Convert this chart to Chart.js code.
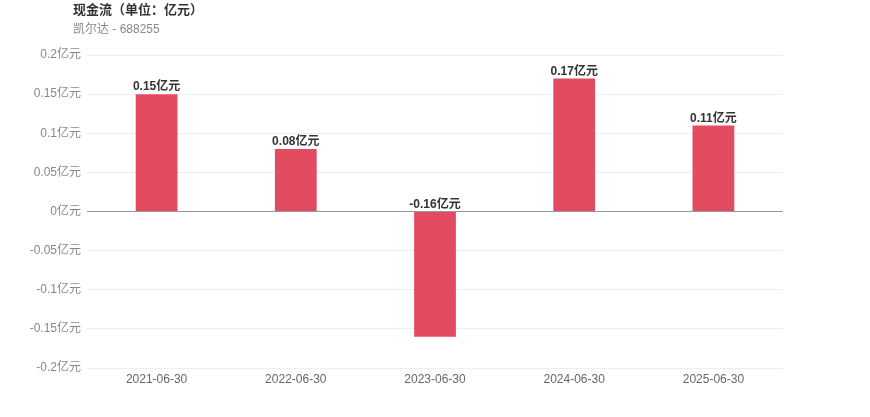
<!DOCTYPE html>
<html>
<head>
<meta charset="utf-8">
<script src="https://cdn.jsdelivr.net/npm/chart.js@4/dist/chart.umd.min.js"></script>
<style>
  body { margin: 0; background: #fff; font-family: "Liberation Sans", "Noto Sans CJK SC", sans-serif; }
  #wrap { position: relative; width: 870px; height: 417px; }
  #title { position: absolute; left: 73px; top: -1px; font-size: 13px; font-weight: bold; color: #333; }
  #sub { position: absolute; left: 73px; top: 19px; font-size: 12px; color: #888; }
</style>
</head>
<body>
<div id="wrap">
  <canvas id="myChart" width="870" height="417"></canvas>
  <div id="title">现金流（单位：亿元）</div>
  <div id="sub">凯尔达 - 688255</div>
</div>
<script>
const dates = ["2021-06-30", "2022-06-30", "2023-06-30", "2024-06-30", "2025-06-30"];
const cashFlow = [0.15, 0.08, -0.16, 0.17, 0.11];
const unit = "亿元";

const fontFamily = '"Liberation Sans", "Noto Sans CJK SC", sans-serif';

const barLabels = {
  id: "barLabels",
  afterDatasetsDraw(chart) {
    const ctx = chart.ctx;
    const meta = chart.getDatasetMeta(0);
    const yZero = chart.scales.y.getPixelForValue(0);
    ctx.save();
    ctx.font = "bold 12px " + fontFamily;
    ctx.fillStyle = "#333";
    ctx.textAlign = "center";
    ctx.textBaseline = "bottom";
    meta.data.forEach((bar, i) => {
      const y = Math.min(bar.y, yZero) - 1;
      ctx.fillText(cashFlow[i] + unit, bar.x, y);
    });
    ctx.restore();
  },
};

const ctx = document.getElementById("myChart").getContext("2d");
const myChart = new Chart(ctx, {
  type: "bar",
  data: {
    labels: dates,
    datasets: [
      {
        data: cashFlow,
        backgroundColor: "#e24b60",
        barPercentage: 0.6,
        categoryPercentage: 0.5,
      },
    ],
  },
  options: {
    responsive: false,
    animation: false,
    layout: { padding: { left: 0, right: 87, top: 55, bottom: 19 } },
    plugins: {
      legend: { display: false },
      tooltip: { enabled: false },
    },
    scales: {
      x: {
        afterFit: (s) => { s.height = 30; },
        grid: { display: false, drawTicks: false },
        border: { display: false },
        ticks: { color: "#666", font: { size: 12, family: fontFamily }, padding: 4, maxRotation: 0 },
      },
      y: {
        min: -0.2,
        max: 0.2,
        afterFit: (s) => { s.width = 87; },
        border: { display: false },
        grid: {
          drawTicks: false,
          color: (c) => (c.tick && c.tick.value === 0 ? "#999" : "#eee"),
        },
        ticks: {
          stepSize: 0.05,
          padding: 6,
          color: "#888",
          font: { size: 12, family: fontFamily },
          callback: (v) => Math.round(v * 100) / 100 + unit,
        },
      },
    },
  },
  plugins: [barLabels],
});
</script>
</body>
</html>
